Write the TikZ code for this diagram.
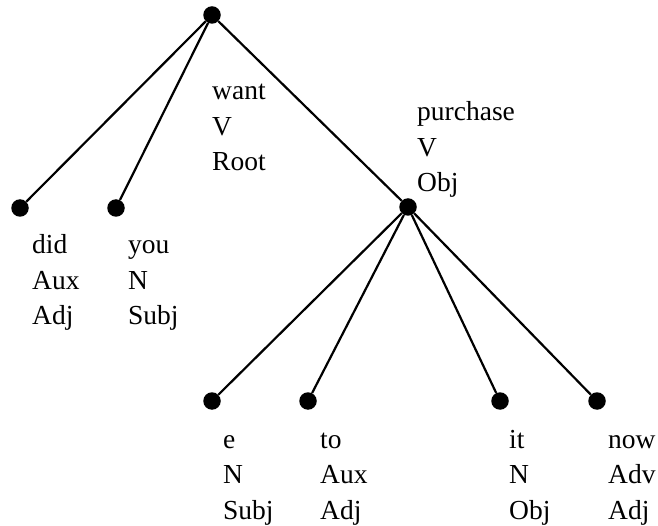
\documentclass[tikz,border=0pt]{standalone}
\usepackage{fontspec}
\setmainfont{Liberation Serif}
\newcommand\tri[3]{\begin{tabular}[t]{@{}l@{}}#1\\#2\\#3\end{tabular}}
\begin{document}
\begin{tikzpicture}[x=1pt,y=-1pt,
  dot/.style={circle,fill=black,inner sep=0pt,minimum size=17.5pt},
  edge/.style={line width=2.2pt},
  lab/.style={anchor=base west,inner sep=0pt,font=\fontsize{27.5}{35.5}\selectfont}]
\useasboundingbox (0,0) rectangle (658,526);

% tree nodes
\node[dot] (root) at (212,15) {};
\node[dot] (did) at (20,208) {};
\node[dot] (you) at (116,208) {};
\node[dot] (purchase) at (408,207) {};
\node[dot] (e) at (212,401) {};
\node[dot] (to) at (308,401) {};
\node[dot] (it) at (500,401) {};
\node[dot] (now) at (597,401) {};

% branches
\draw[edge] (root) -- (did);
\draw[edge] (root) -- (you);
\draw[edge] (root) -- (purchase);
\draw[edge] (purchase) -- (e);
\draw[edge] (purchase) -- (to);
\draw[edge] (purchase) -- (it);
\draw[edge] (purchase) -- (now);

% word / category / relation labels
\node[lab] (rootlab) at (212,100) {\tri{want}{V}{Root}};
\node[lab] (purchaselab) at (417,121) {\tri{purchase}{V}{Obj}};
\node[lab] (didlab) at (32,254) {\tri{did}{Aux}{Adj}};
\node[lab] (youlab) at (128,254) {\tri{you}{N}{Subj}};
\node[lab] (elab) at (223,448) {\tri{e}{N}{Subj}};
\node[lab] (tolab) at (320,448) {\tri{to}{Aux}{Adj}};
\node[lab] (itlab) at (509,448) {\tri{it}{N}{Obj}};
\node[lab] (nowlab) at (608,448) {\tri{now}{Adv}{Adj}};
\end{tikzpicture}
\end{document}
